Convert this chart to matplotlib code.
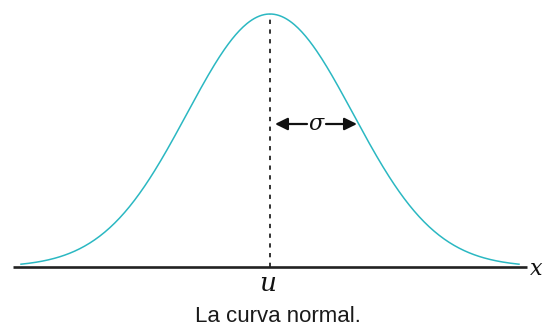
import numpy as np
import matplotlib
matplotlib.use("Agg")
from matplotlib import pyplot as plt

# normal curve parameters (in sigma units)
mu = 0.0
sigma = 1.0
z_range = [-3.0, 3.0]
axis_range = [-3.10, 3.10]
labels = {"mean": "u", "spread": "σ", "axis": "x", "caption": "La curva normal."}

px = 83.0                 # pixels per sigma
peak = 1 / (sigma * np.sqrt(2 * np.pi))
py = peak / 253.0         # pdf units per pixel

fig = plt.figure(figsize=(5.43, 3.27), dpi=100)
ax = fig.add_axes([0, 0, 1, 1])
ax.set_xlim(-270 / px, (543 - 270) / px)
ax.set_ylim(-60 * py, 267 * py)
ax.axis("off")

z = np.linspace(z_range[0], z_range[1], 400)
pdf = np.exp(-0.5 * ((z - mu) / sigma) ** 2) / (sigma * np.sqrt(2 * np.pi))

# baseline
ax.plot(axis_range, [0, 0], color="#222222", lw=1.9, solid_capstyle="butt", zorder=2)
ax.plot(z, pdf, color="#2bb8c2", lw=1.1, zorder=3)
# dashed line at the mean
ax.plot([mu, mu], [0, peak], color="#333333", lw=1.4, ls=(0, (2.2, 2.8)), zorder=1)

# sigma arrows
ya = (267 - 124) * py
astyle = "-|>,head_length=0.75,head_width=0.37"
ax.annotate("", xy=(mu + 5 / px, ya), xytext=(mu + 37 / px, ya),
            arrowprops=dict(arrowstyle=astyle, color="#111111", lw=1.6,
                            shrinkA=0, shrinkB=0))
ax.annotate("", xy=(mu + 87 / px, ya), xytext=(mu + 56 / px, ya),
            arrowprops=dict(arrowstyle=astyle, color="#111111", lw=1.6,
                            shrinkA=0, shrinkB=0))
ax.text(mu + 46.5 / px, ya, labels["spread"], ha="center", va="center", fontsize=16,
        family="DejaVu Serif", style="italic", color="#111111")

ax.text(mu - 2 / px, -24 * py, labels["mean"], ha="center", va="baseline", fontsize=19,
        family="DejaVu Serif", style="italic", color="#111111")
ax.text(axis_range[1] + 3 / px, -8 * py, labels["axis"], ha="left", va="baseline", fontsize=16,
        family="DejaVu Serif", style="italic", color="#111111")
ax.text(mu + 8 / px, -55 * py, labels["caption"], ha="center", va="baseline", fontsize=16,
        family="Liberation Sans", color="#1a1a1a")

fig.savefig("out.png", dpi=100)
